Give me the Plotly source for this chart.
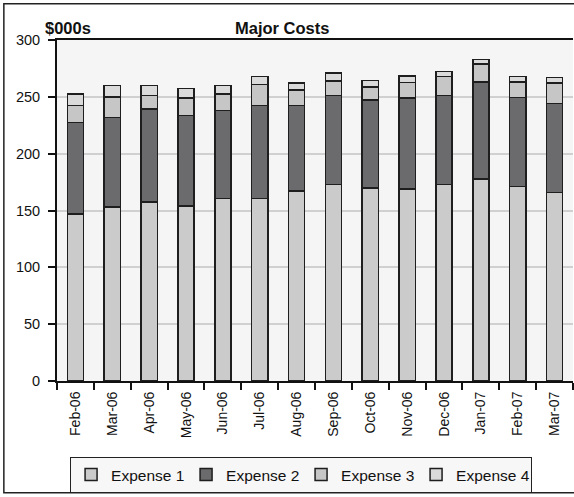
import plotly.graph_objects as go

months = ["Feb-06", "Mar-06", "Apr-06", "May-06", "Jun-06", "Jul-06", "Aug-06",
          "Sep-06", "Oct-06", "Nov-06", "Dec-06", "Jan-07", "Feb-07", "Mar-07"]
expense1 = [147, 153, 157.5, 154, 160.5, 160.5, 167, 173, 170, 169, 173, 177.5, 171, 166]
expense2 = [80.5, 79, 82, 79.5, 77.5, 82, 75.5, 78, 77, 80, 78, 85.5, 78.5, 78]
expense3 = [15, 18, 11.5, 15.5, 14.5, 18.5, 13.5, 13, 11.5, 13.5, 17, 16, 13.5, 18]
expense4 = [10, 10, 9, 8.5, 7.5, 7, 6, 7, 6, 6, 4.5, 4, 5, 5]

series = [("Expense 1", expense1, "#CBCBCB"),
          ("Expense 2", expense2, "#6B6B6D"),
          ("Expense 3", expense3, "#C6C6C6"),
          ("Expense 4", expense4, "#DADADA")]

FONT = "Liberation Sans, Arial, sans-serif"

fig = go.Figure()
for name, vals, col in series:
    fig.add_trace(go.Bar(x=months, y=vals, name=name,
                         marker=dict(color=col, line=dict(color="#1e1e1e", width=1.5))))

fig.update_layout(
    width=574, height=497,
    barmode="stack", bargap=0.56,
    margin=dict(l=57, r=1, t=40, b=116),
    paper_bgcolor="white", plot_bgcolor="#F5F5F5",
    font=dict(family=FONT, size=14, color="#111"),
    showlegend=True,
    legend=dict(orientation="h", x=0.473, xanchor="center", y=-0.223, yanchor="top",
                bordercolor="#222", borderwidth=1, bgcolor="#F7F7F7",
                font=dict(size=15.5), traceorder="normal",
                itemwidth=30, entrywidth=70, entrywidthmode="pixels"),
    xaxis=dict(type="category", tickangle=-90, ticks="outside", ticklen=7, tickwidth=1.5,
               tickcolor="#111", tickson="boundaries", showline=True, linecolor="#111",
               linewidth=2, mirror=True, showgrid=False, tickfont=dict(size=14),
               ticklabelstandoff=3),
    yaxis=dict(range=[0, 300], dtick=50, ticks="outside", ticklen=7, tickwidth=1.5,
               tickcolor="#111", showline=True, linecolor="#111", linewidth=2,
               gridcolor="#D0D0D0", gridwidth=1.5, zeroline=False, tickfont=dict(size=14.5),
               ticklabelstandoff=5),
    annotations=[
        dict(text="<b>Major Costs</b>", xref="paper", yref="paper", x=0.436, y=1.035,
             showarrow=False, font=dict(size=16.5), xanchor="center", yanchor="middle"),
        dict(text="<b>$000s</b>", xref="paper", yref="paper", x=-0.027, y=1.035,
             showarrow=False, font=dict(size=16.5), xanchor="left", yanchor="middle"),
    ],
    shapes=[
        dict(type="rect", xref="paper", yref="paper", x0=-0.103, x1=1.02, y0=-0.328, y1=1.106,
             line=dict(color="#222", width=1.5), fillcolor="rgba(0,0,0,0)", layer="below"),
    ],
)

fig.write_html("out.html", config={"displayModeBar": False},
               post_script="document.body.style.margin='0';")
